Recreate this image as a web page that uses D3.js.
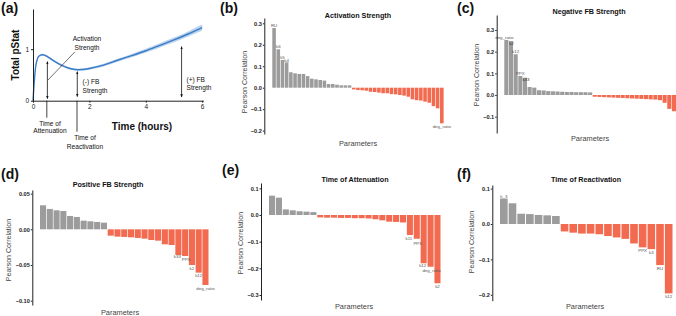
<!DOCTYPE html>
<html><head><meta charset="utf-8">
<script src="https://cdn.jsdelivr.net/npm/d3@7"></script>
<style>body{margin:0;background:#fff}svg{display:block;font-family:"Liberation Sans",Arial,sans-serif}</style>
</head><body><svg id="c" width="676" height="316"></svg>
<script>
// ---------- Panel (a) data ----------
const aTime  = [0,0.05,0.1,0.15,0.2,0.3,0.4,0.5,0.75,1.0,1.25,1.5,1.75,2,2.5,3,3.5,4,4.5,5,5.5,6];
const aPstat = [0,0.40,0.68,0.80,0.86,0.89,0.885,0.86,0.77,0.69,0.635,0.605,0.605,0.625,0.69,0.785,0.875,0.97,1.075,1.18,1.295,1.42];
const aBand  = [0.005,0.01,0.015,0.02,0.02,0.02,0.02,0.02,0.02,0.02,0.02,0.02,0.02,0.022,0.025,0.028,0.032,0.036,0.04,0.045,0.05,0.058];
const aXTicks = [0,2,4,6];
const aYTicks = [0,1];

// ---------- Panel (b) Activation Strength ----------
const bValues = [0.278,0.179,0.129,0.118,0.072,0.067,0.064,0.064,0.054,0.042,0.039,0.036,0.033,0.017,0.017,0.014,0.011,0.011,0.011,
  -0.008,-0.011,-0.012,-0.014,-0.019,-0.020,-0.023,-0.026,-0.026,-0.030,-0.031,-0.034,-0.037,-0.042,-0.054,-0.058,-0.060,-0.065,-0.070,-0.086,-0.096,-0.166];
const bLabels = {0:"RU",1:"k6",2:"k5",3:"k4",40:"deg_ratio"};
const bTicks = [-0.2,-0.1,0,0.1,0.2,0.3];

// ---------- Panel (c) Negative FB Strength ----------
const cValues = [0.254,0.249,0.188,0.088,0.080,0.037,0.034,0.022,0.021,0.018,0.017,0.016,0.015,0.014,0.014,0.013,0.013,0.013,0.012,
  -0.008,-0.009,-0.010,-0.011,-0.012,-0.013,-0.014,-0.015,-0.016,-0.017,-0.018,-0.019,-0.020,-0.021,-0.024,-0.036,-0.064,-0.075];
const cLabels = {0:"deg_ratio",1:"k2",2:"k12",3:"PPX",4:"k33"};
const cTicks = [-0.1,0,0.1,0.2,0.3];

// ---------- Panel (d) Positive FB Strength ----------
const dValues = [0.0336,0.0285,0.0266,0.0257,0.0187,0.0173,0.0121,0.0112,0.0103,0.0093,
  -0.0089,-0.0103,-0.0107,-0.0112,-0.0121,-0.0131,-0.0150,-0.0159,-0.0210,-0.0220,-0.0360,-0.0374,-0.0500,-0.0607,-0.0780];
const dLabels = {20:"k33",21:"PPX",22:"k2",23:"k12",24:"deg_ratio"};
const dTicks = [-0.10,-0.05,0,0.05];

// ---------- Panel (e) Time of Attenuation ----------
const eValues = [0.0725,0.065,0.021,0.0175,0.014,0.0125,0.011,
  -0.009,-0.010,-0.010,-0.011,-0.011,-0.012,-0.012,-0.013,-0.016,-0.020,-0.025,-0.026,-0.028,-0.075,-0.089,-0.181,-0.194,-0.256];
const eLabels = {20:"k11",21:"PPX",22:"k12",23:"deg_ratio",24:"k2"};
const eTicks = [-0.3,-0.2,-0.1,0,0.1];

// ---------- Panel (f) Time of Reactivation ----------
const fValues = [0.0717,0.0585,0.029,0.028,0.0255,0.0245,0.0226,
  -0.021,-0.0245,-0.027,-0.027,-0.029,-0.034,-0.038,-0.042,-0.055,-0.066,-0.071,-0.116,-0.196];
const fLabels = {0:"k_3",16:"PPX",17:"k3",18:"RU",19:"k12"};
const fTicks = [-0.2,-0.1,0,0.1];

const GREY = "#9c9c9c", RED = "#f26b50", AX = "#222";
const svg = d3.select("#c");

// ---------- Panel (a) ----------
(function(){
  const g = svg.append("g");
  const x = d3.scaleLinear().domain([0,6.04]).range([33,203.3]);
  const y = d3.scaleLinear().domain([0,1.78]).range([100.7,9]);
  const pts = aTime.map((t,i)=>({t,v:aPstat[i],b:aBand[i]}));
  g.append("path").datum(pts)
    .attr("d", d3.area().x(d=>x(d.t)).y0(d=>y(d.v-d.b)).y1(d=>y(d.v+d.b)).curve(d3.curveCatmullRom))
    .attr("fill","#b8d2ee");
  g.append("path").datum(pts)
    .attr("d", d3.line().x(d=>x(d.t)).y(d=>y(d.v)).curve(d3.curveCatmullRom))
    .attr("fill","none").attr("stroke","#3b7cc6").attr("stroke-width",1.4);
  const ya = g.append("g").attr("transform","translate(33,0)")
    .call(d3.axisLeft(y).tickValues(aYTicks).tickSize(2).tickSizeOuter(0).tickPadding(2).tickFormat(d3.format("d")));
  const xa = g.append("g").attr("transform","translate(0,100.7)")
    .call(d3.axisBottom(x).tickValues(aXTicks).tickSize(2).tickSizeOuter(0).tickPadding(2).tickFormat(d3.format("d")));
  [ya,xa].forEach(a=>{a.select(".domain").attr("stroke",AX).attr("stroke-width",1);
    a.selectAll("line").attr("stroke",AX);
    a.selectAll("text").attr("font-size",6.5).attr("fill",AX).attr("font-family","Liberation Sans, Arial");});
  const defs = svg.append("defs");
  defs.append("marker").attr("id","ah").attr("viewBox","0 0 10 10").attr("refX",9).attr("refY",5)
    .attr("markerWidth",4).attr("markerHeight",4).attr("orient","auto-start-reverse")
    .append("path").attr("d","M0,1L10,5L0,9z").attr("fill","#111");
  function darrow(t,v0,v1){
    g.append("line").attr("x1",x(t)).attr("x2",x(t)).attr("y1",y(v0)).attr("y2",y(v1))
      .attr("stroke","#111").attr("stroke-width",0.8)
      .attr("marker-start","url(#ah)").attr("marker-end","url(#ah)");
  }
  darrow(0.51,0.04,0.76);
  darrow(1.57,0.08,0.565);
  darrow(5.27,0.07,1.05);
  g.append("line").attr("x1",x(0.49)).attr("x2",x(0.49)).attr("y1",y(0)).attr("y2",y(0)+17).attr("stroke","#111").attr("stroke-width",0.8);
  g.append("line").attr("x1",x(1.56)).attr("x2",x(1.56)).attr("y1",y(0)).attr("y2",y(0)+31).attr("stroke","#111").attr("stroke-width",0.8);
  g.append("line").attr("x1",x(1.49)).attr("y1",y(0.95)).attr("x2",x(0.53)).attr("y2",y(0.40)).attr("stroke","#111").attr("stroke-width",0.6);
  const T = (tx,ty,s,anchor)=>g.append("text").attr("x",tx).attr("y",ty).text(s)
    .attr("font-size",6.6).attr("fill","#111").attr("text-anchor",anchor||"middle");
  T(87,41,"Activation"); T(87,50,"Strength");
  T(82.5,83.5,"(-) FB","start"); T(82.5,92.5,"Strength","start");
  T(186.5,81.5,"(+) FB","start"); T(186.5,90,"Strength","start");
  T(50,125.5,"Time of"); T(50,133,"Attenuation");
  T(85,140,"Time of"); T(85,148.5,"Reactivation");
  g.append("text").attr("x",142).attr("y",129.5).attr("text-anchor","middle").attr("font-weight","bold")
    .attr("font-size",10).attr("fill","#111").text("Time (hours)");
  g.append("text").attr("transform","translate(18.5,55) rotate(-90)").attr("text-anchor","middle").attr("font-weight","bold")
    .attr("font-size",10).attr("fill","#111").text("Total pStat");
})();

// ---------- bar panels ----------
function barPanel(c){
  const g = svg.append("g");
  const y = d3.scaleLinear().domain([-(c.bottom-c.y0)/c.k,(c.y0-c.top)/c.k]).range([c.bottom,c.top]);
  const x = d3.scaleBand().domain(d3.range(c.values.length)).range([c.x0,c.x1]).paddingInner(c.pad).paddingOuter(0);
  g.selectAll("rect").data(c.values).join("rect")
    .attr("x",(d,i)=>x(i)).attr("width",x.bandwidth())
    .attr("y",d=>y(Math.max(0,d))).attr("height",d=>Math.abs(y(d)-y(0)))
    .attr("fill",d=>d>=0?GREY:RED);
  const off = c.off || {};
  Object.entries(c.labels).forEach(([i,s])=>{
    const v=c.values[+i], o=off[i]||[0,0];
    g.append("text").attr("x",x(+i)+x.bandwidth()/2+o[0]).attr("y",(v>=0?y(v)-0.8:y(v)+4.8)+o[1])
      .attr("text-anchor","middle").attr("font-size",4.4).attr("fill",v>=0&&o[1]>2?"#333":"#555").text(s);
  });
  const ax = g.append("g").attr("transform",`translate(${c.axisX},0)`)
    .call(d3.axisLeft(y).tickValues(c.ticks).tickSize(1.5).tickSizeOuter(0).tickPadding(1).tickFormat(d3.format(c.fmt)));
  ax.select(".domain").attr("stroke",AX).attr("stroke-width",1);
  ax.selectAll("line").attr("stroke",AX);
  ax.selectAll("text").attr("font-size",5.6).attr("font-weight","bold").attr("fill",AX).attr("font-family","Liberation Sans, Arial");
  g.append("text").attr("x",c.title[0]).attr("y",c.title[1]).attr("text-anchor","middle").attr("font-weight","bold")
    .attr("font-size",7.2).attr("fill","#111").text(c.titleText);
  g.append("text").attr("x",c.xlab[0]).attr("y",c.xlab[1]).attr("text-anchor","middle")
    .attr("font-size",7.4).attr("fill","#444").text("Parameters");
  g.append("text").attr("transform",`translate(${c.ylab[0]},${c.ylab[1]}) rotate(-90)`).attr("text-anchor","middle")
    .attr("font-size",7).attr("fill","#444").text("Pearson Correlation");
}

barPanel({values:bValues,labels:bLabels,ticks:bTicks,fmt:".1f",x0:272.3,x1:443.6,pad:0.15,axisX:264.3,y0:87.7,k:214.7,top:18,bottom:134,
  title:[358,17.5],titleText:"Activation Strength",xlab:[358,145.5],ylab:[246.5,82]});
barPanel({values:cValues,labels:cLabels,ticks:cTicks,fmt:".1f",x0:504.3,x1:676,pad:0.12,axisX:496.7,y0:95,k:216.7,top:15,bottom:133,
  title:[589,13.5],titleText:"Negative FB Strength",xlab:[590,141],ylab:[478.5,75],
  off:{0:[-2,0],1:[0.5,5],4:[1,4.5]}});
barPanel({values:dValues,labels:dLabels,ticks:dTicks,fmt:".2f",x0:40,x1:208.5,pad:0.1,axisX:32.3,y0:229.3,k:714,top:190,bottom:305,
  title:[108,186.5],titleText:"Positive FB Strength",xlab:[120,315],ylab:[11,250],
  off:{20:[-1,-2],21:[1,0]}});
barPanel({values:eValues,labels:eLabels,ticks:eTicks,fmt:".1f",x0:269,x1:440.5,pad:0.12,axisX:261,y0:215,k:266.7,top:183,bottom:300,
  title:[355,181.5],titleText:"Time of Attenuation",xlab:[354,309],ylab:[242.5,243],
  off:{20:[-1,0],21:[1,1.5],22:[-1,-1],23:[1,0.5]}});
barPanel({values:fValues,labels:fLabels,ticks:fTicks,fmt:".1f",x0:500,x1:672.5,pad:0.12,axisX:492.3,y0:224,k:354,top:185,bottom:300.7,
  title:[586,181.5],titleText:"Time of Reactivation",xlab:[585,308.5],ylab:[474,242]});

[["(a)",1,13],["(b)",220,13],["(c)",457,12.5],["(d)",1,179],["(e)",222,175],["(f)",457,179]].forEach(([s,x,y])=>{
  svg.append("text").attr("x",x).attr("y",y).attr("font-weight","bold").attr("font-size",14).attr("fill","#111").text(s);
});
</script></body></html>
